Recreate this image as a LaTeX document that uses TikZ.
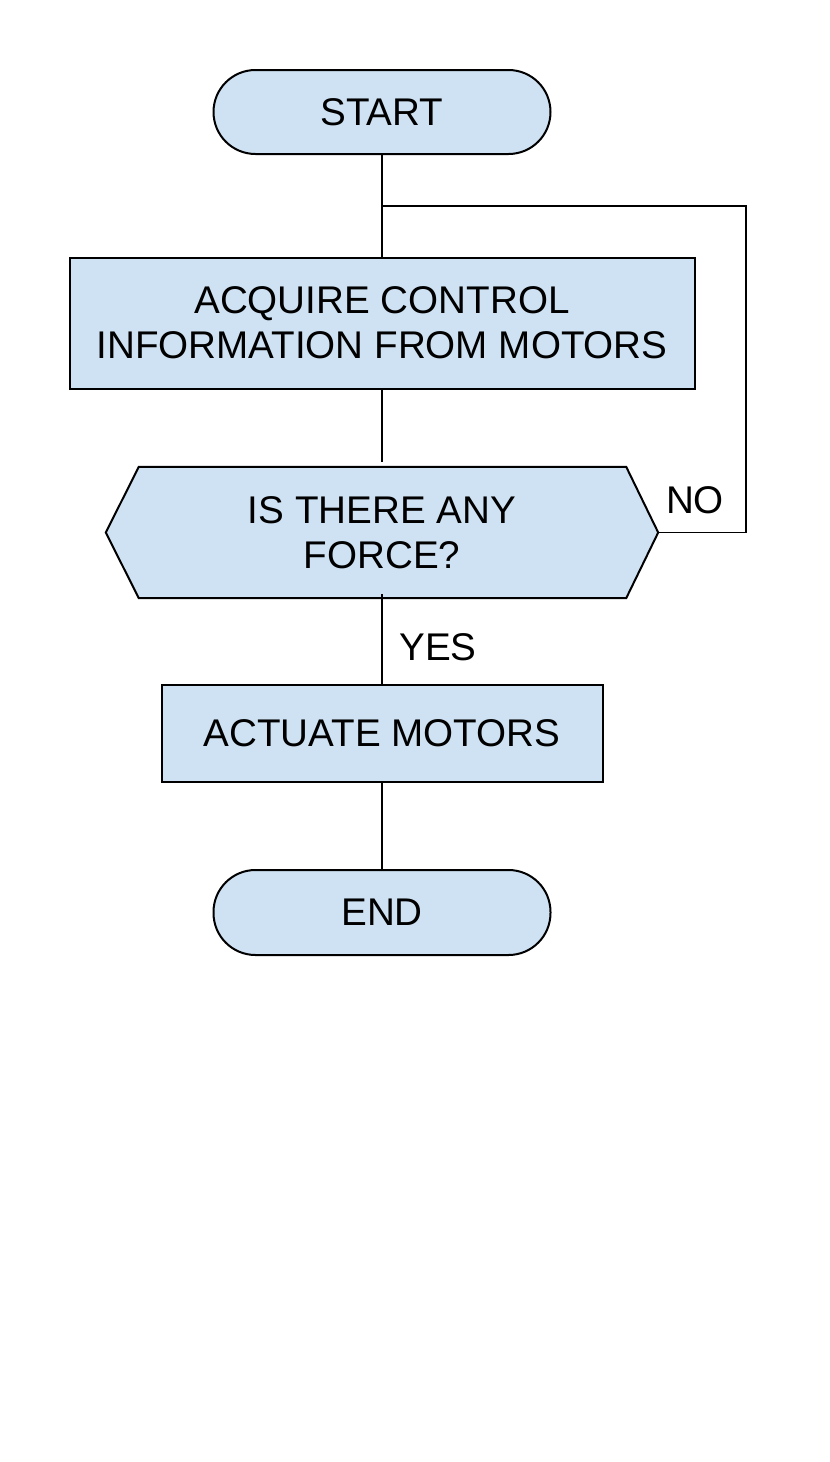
\documentclass[tikz,border=0pt]{standalone}
\usepackage{fontspec}
\setmainfont{Liberation Sans}
\usetikzlibrary{calc}
\definecolor{boxfill}{HTML}{CFE2F3}
\begin{document}
\begin{tikzpicture}[x=1pt,y=-1pt,
  every node/.style={font=\fontsize{38.6}{45}\selectfont, text=black, inner sep=0pt},
  term/.style={draw=black, line width=2pt, fill=boxfill, rounded corners=42pt, minimum width=337pt, minimum height=84pt},
  procbox/.style={draw=black, line width=2pt, fill=boxfill, align=center},
  conn/.style={draw=black, line width=1.6pt}
]
\useasboundingbox (0,0) rectangle (830,1462);
\fill[white] (0,0) rectangle (830,1462);

\node[term] (start) at (382,112) {START};
\node[procbox, minimum width=625pt, minimum height=131pt] (acq) at (382,323) {ACQUIRE CONTROL\\INFORMATION FROM MOTORS};
\node[minimum width=552pt, minimum height=131pt] (dec) at (382,532.5) {};
\draw[line width=2pt, fill=boxfill]
  (dec.west) -- ($(dec.north west)+(33,0)$) -- ($(dec.north east)+(-32,0)$) -- (dec.east)
  -- ($(dec.south east)+(-32,0)$) -- ($(dec.south west)+(33,0)$) -- cycle;
\node[align=center] (dectext) at (dec.center) {IS THERE ANY\\FORCE?};
\node[procbox, minimum width=441pt, minimum height=97pt] (act) at (382,733.5) {ACTUATE MOTORS};
\node[term, minimum height=85pt] (end) at (382,912.5) {END};

\coordinate (j) at (382,206);
\coordinate (lr) at (746,206);

\draw[conn] (start.south) -- (acq.north);
\draw[conn] (j) -- (lr) |- (dec.east);
\draw[conn, shorten >=5pt] (acq.south) -- (dec.north);
\draw[conn, shorten <=-4pt] (dec.south) -- (act.north);
\draw[conn] (act.south) -- (end.north);

\node (no) at (695,500) {NO};
\node (yes) at (438,647) {YES};
\end{tikzpicture}
\end{document}
